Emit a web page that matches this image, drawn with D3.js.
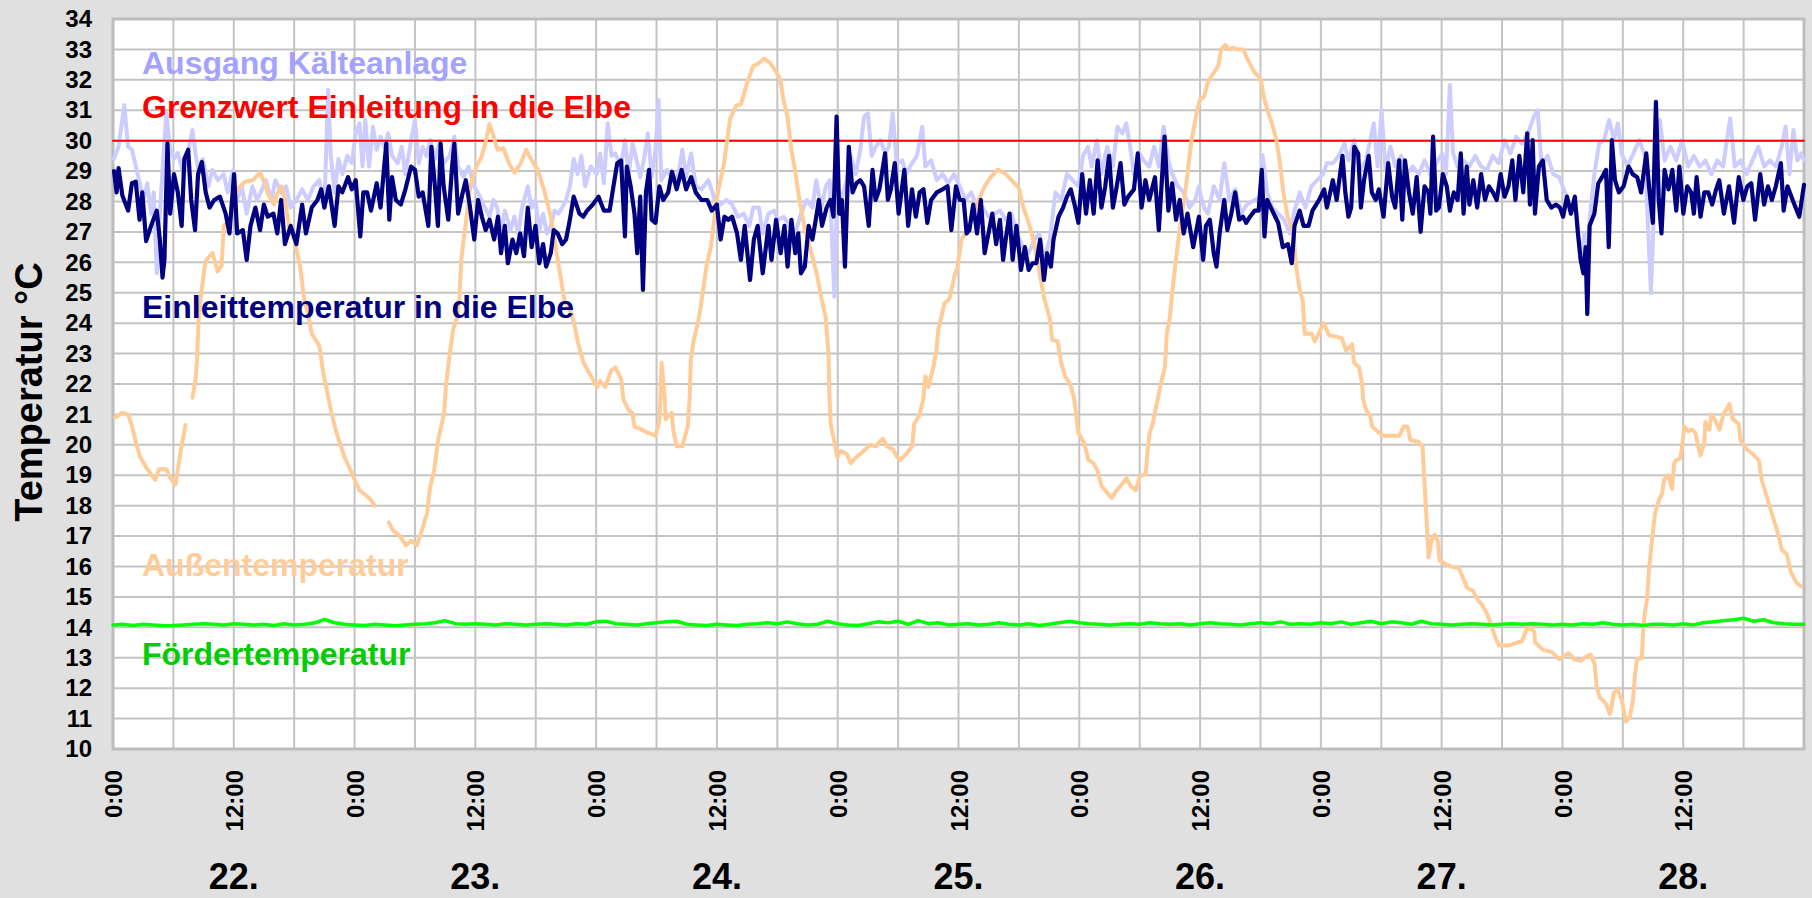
<!DOCTYPE html>
<html>
<head>
<meta charset="utf-8">
<script src="https://cdn.jsdelivr.net/npm/d3@7"></script>
<style>
  body { margin: 0; background: #e0e0e0; }
  text { font-family: "Liberation Sans", Arial, sans-serif; font-weight: bold; }
</style>
</head>
<body>
<svg id="chart" width="1812" height="898"></svg>
<script>
// time is hours since 22. 0:00, values in °C

var dayLabels = ['22.', '23.', '24.', '25.', '26.', '27.', '28.'];
var yTicks = d3.range(10, 35);

var grenzwert = [[0, 30], [168, 30]];

var einleit = [[0.1,29.0],[0.36,28.3],[0.55,29.1],[0.93,28.2],[1.5,27.7],[1.88,28.6],[2.26,28.65],[2.64,27.4],[2.91,28.3],[3.29,26.7],[3.78,27.2],[4.35,27.7],[4.65,26.75],[4.92,25.5],[5.11,26.1],[5.41,29.9],[5.68,27.6],[6.06,28.9],[6.44,28.3],[6.82,27.2],[7.09,29.4],[7.47,29.7],[7.77,28.05],[8.15,27.06],[8.45,28.9],[8.83,29.3],[9.21,28.3],[9.59,27.8],[10.05,28.05],[10.62,28.16],[11.19,27.6],[11.57,26.95],[12.03,28.9],[12.33,26.95],[12.9,27.06],[13.28,26.08],[13.66,27.2],[14.15,27.8],[14.61,27.06],[14.99,27.9],[15.37,27.5],[15.94,27.6],[16.32,26.95],[16.7,28.05],[17.08,26.6],[17.65,27.2],[18.22,26.6],[18.79,27.9],[19.17,26.95],[19.74,27.8],[20.31,28.05],[20.69,28.4],[21.0,27.8],[21.45,28.5],[22.02,27.2],[22.4,28.5],[22.78,28.3],[23.35,28.8],[23.73,28.4],[24.11,28.7],[24.57,26.85],[24.87,28.3],[25.25,28.3],[25.63,27.7],[26.2,28.6],[26.58,27.8],[27.15,29.9],[27.45,27.4],[27.72,28.8],[28.1,28.05],[28.59,27.9],[29.05,28.4],[29.62,29.15],[30.0,29.04],[30.38,28.16],[30.76,28.3],[31.33,27.2],[31.63,29.8],[32.01,28.4],[32.28,27.2],[32.55,29.9],[32.85,28.5],[33.31,27.4],[33.69,29.15],[33.91,29.9],[34.29,27.6],[34.75,28.3],[35.05,28.7],[35.43,27.9],[35.89,26.75],[36.27,28.05],[36.65,27.5],[37.03,27.06],[37.41,27.4],[37.87,26.75],[38.25,27.5],[38.55,26.3],[38.93,27.2],[39.23,25.97],[39.69,26.75],[40.07,26.3],[40.45,26.95],[40.83,26.2],[41.21,27.8],[41.59,26.5],[41.97,27.2],[42.35,25.97],[42.73,26.6],[43.03,25.86],[43.49,26.3],[43.79,27.06],[44.17,26.95],[44.63,26.6],[45.01,26.75],[45.39,27.4],[45.77,28.16],[46.34,27.6],[46.72,27.5],[47.1,27.7],[47.67,27.9],[48.24,28.16],
  [48.77,27.7],[49.34,27.7],[49.72,28.5],[50.1,29.26],[50.48,29.35],[50.86,26.85],[51.05,29.15],[51.43,28.5],[51.81,27.6],[52.08,26.3],[52.38,28.16],[52.65,25.09],[52.95,28.3],[53.26,29.04],[53.52,27.4],[53.9,27.3],[54.28,28.5],[54.66,28.05],[55.16,28.3],[55.54,28.98],[56.0,28.4],[56.49,29.04],[56.94,28.4],[57.44,28.8],[57.89,28.3],[58.46,28.05],[59.04,28.05],[59.49,27.7],[59.99,27.9],[60.37,26.75],[60.75,27.5],[61.13,27.4],[61.51,27.5],[62.0,26.95],[62.38,26.08],[62.76,27.2],[63.29,25.42],[63.67,26.75],[64.05,27.2],[64.55,25.64],[65.12,27.2],[65.42,26.08],[65.88,27.4],[66.33,26.3],[66.71,27.2],[67.02,25.86],[67.4,27.4],[67.78,26.3],[68.08,26.95],[68.35,25.64],[68.73,25.86],[69.11,27.2],[69.49,26.75],[69.87,27.5],[70.13,28.05],[70.44,27.2],[70.9,27.8],[71.28,28.05],[71.58,27.5],[71.89,30.79],[72.15,27.6],[72.42,28.05],[72.72,25.86],[73.1,29.8],[73.48,28.3],[73.86,28.6],[74.24,28.7],[74.62,28.5],[75.08,27.2],[75.46,29.04],[75.76,28.05],[76.14,28.4],[76.71,29.58],[76.98,28.05],[77.28,28.4],[77.67,29.26],[78.05,27.6],[78.62,29.04],[79.0,27.2],[79.38,28.4],[79.76,27.5],[80.14,28.3],[80.52,28.4],[80.9,27.3],[81.28,28.05],[81.85,28.3],[82.42,28.4],[82.91,28.5],[83.29,27.06],[83.75,28.5],[84.13,28.05],[84.51,28.05],[84.81,26.95],[85.08,27.06],[85.46,27.9],[85.84,26.95],[86.22,28.05],[86.6,26.3],[86.98,26.95],[87.36,27.6],[87.74,26.6],[88.12,27.4],[88.43,26.08],[88.69,26.75],[89.07,27.6],[89.38,26.08],[89.76,27.2],[90.21,25.75],[90.59,26.5],[90.97,25.75],[91.35,25.97],[91.73,25.97],[92.11,26.75],[92.49,25.42],[92.8,26.3],[93.18,25.86],[93.44,26.75],[93.94,27.5],[94.39,27.8],[94.77,28.16],[95.15,28.4],[95.53,27.9],[95.91,27.3],[96.29,28.9],[96.67,27.6],[97.05,28.7],[97.43,27.6],[97.82,29.35],[98.2,27.8],[98.58,28.5],[98.96,29.5],[99.34,27.8],[99.72,28.5],[100.1,29.26],[100.48,27.9],[100.86,28.16],[101.43,28.4],[101.81,29.58],[102.19,27.8],[102.57,28.7],[102.95,28.05],[103.52,28.8],[103.9,27.06],[104.47,30.13],[104.85,27.7],[105.23,28.6],[105.61,27.4],[105.99,28.05],[106.37,26.95],[106.75,27.6],[107.32,26.5],[107.89,27.5],
  [108.31,26.08],[108.58,27.2],[108.97,27.4],[109.36,26.3],[109.63,25.86],[109.94,26.95],[110.4,28.05],[110.71,27.06],[111.1,27.6],[111.49,28.3],[111.88,27.4],[112.27,27.5],[112.58,27.3],[112.96,27.5],[113.43,27.7],[113.82,27.7],[114.13,29.04],[114.4,26.85],[114.67,28.05],[115.17,27.7],[115.76,27.3],[116.22,26.5],[116.73,26.6],[117.11,25.97],[117.38,27.2],[117.89,27.7],[118.28,27.2],[118.78,27.2],[119.17,27.7],[119.83,28.05],[120.33,28.4],[120.6,27.8],[121.19,28.7],[121.57,28.05],[122.15,29.5],[122.43,28.3],[122.74,27.5],[123.01,27.8],[123.32,29.8],[123.71,29.58],[123.98,27.8],[124.29,28.7],[124.75,29.5],[125.06,28.3],[125.45,28.05],[125.76,28.4],[126.23,27.5],[126.69,29.26],[127.08,28.16],[127.39,27.8],[127.78,29.35],[128.09,27.4],[128.36,29.35],[128.75,28.3],[129.13,27.6],[129.52,28.8],[129.91,27.0],[130.3,28.5],[130.69,28.3],[130.88,27.6],[131.15,30.13],[131.46,27.7],[131.73,27.8],[132.12,28.9],[132.51,28.5],[132.82,27.7],[133.21,28.3],[133.59,28.05],[133.9,29.58],[134.18,27.6],[134.49,29.15],[134.76,27.9],[135.15,28.7],[135.53,27.8],[135.92,28.9],[136.31,28.05],[136.7,28.5],[137.09,28.3],[137.47,28.05],[137.86,28.9],[138.25,28.16],[138.64,28.5],[139.02,29.35],[139.33,28.05],[139.72,29.5],[140.11,28.3],[140.5,30.24],[140.77,27.9],[141.04,30.02],[141.27,27.6],[141.66,29.15],[142.05,29.35],[142.44,28.05],[142.9,27.8],[143.37,27.9],[143.75,27.8],[144.07,27.5],[144.45,28.16],[144.84,27.6],[145.23,28.16],[145.54,26.95],[145.81,26.08],[146.08,25.64],[146.31,26.5],[146.47,24.3],[146.7,27.2],[147.17,27.6],[147.56,28.6],[147.94,28.8],[148.33,29.04],[148.6,26.5],[148.91,30.02],[149.22,28.7],[149.61,28.3],[150.08,28.5],[150.58,29.15],[150.97,28.9],[151.43,28.8],[151.82,28.3],[152.33,29.58],[152.6,28.5],[152.98,27.3],[153.29,31.28],[153.57,28.05],[153.84,26.95],[154.15,29.04],[154.54,28.4],[154.92,29.04],[155.31,27.7],[155.62,29.15],[156.01,27.6],[156.4,28.5],[156.79,28.3],[157.06,27.6],[157.33,28.8],[157.72,27.5],[158.1,28.3],[158.49,28.3],[158.88,27.9],[159.27,28.4],[159.58,28.7],[160.04,27.6],[160.55,28.5],[161.05,27.3],[161.52,28.8],[161.98,28.05],[162.37,28.5],[162.76,28.6],[163.14,27.4],[163.65,28.9],[164.04,27.9],[164.42,28.5],[164.81,28.05],[165.2,28.5],[165.7,29.26],[165.98,27.7],[166.36,28.5],[166.87,28.05],[167.53,27.5],[168.0,28.55]];

var ausgang = [[0.1,29.4],[0.55,29.8],[1.12,31.17],[1.5,29.8],[1.88,29.7],[2.45,28.9],[3.03,28.05],[3.41,28.6],[3.78,27.6],[4.05,28.3],[4.35,25.64],[4.65,27.6],[5.11,30.02],[5.3,30.9],[5.68,29.7],[6.06,29.4],[6.44,29.6],[7.01,28.9],[7.39,29.5],[7.89,30.35],[8.23,29.5],[8.53,28.9],[8.91,29.4],[9.48,28.5],[9.86,29.04],[10.43,28.7],[11.0,28.9],[11.38,28.3],[11.95,29.04],[12.33,28.05],[12.79,28.5],[13.28,27.6],[13.85,28.5],[14.3,28.05],[14.8,28.4],[15.18,28.7],[15.75,28.05],[16.13,28.7],[16.7,28.3],[17.19,28.5],[17.65,27.8],[18.22,28.05],[18.79,28.4],[19.36,28.05],[19.93,28.5],[20.5,28.7],[21.0,27.8],[21.37,31.67],[21.64,29.5],[22.02,28.3],[22.4,29.4],[22.78,28.9],[23.27,29.5],[23.73,29.26],[24.11,30.24],[24.49,30.57],[24.79,29.15],[25.06,30.68],[25.44,29.15],[25.82,30.46],[26.2,29.7],[26.58,30.13],[26.96,29.8],[27.34,30.24],[27.72,29.5],[28.29,29.26],[28.67,29.8],[29.05,28.9],[29.62,30.02],[30.0,30.68],[30.38,29.26],[30.76,29.8],[31.14,29.5],[31.52,30.02],[32.01,29.4],[32.39,29.9],[32.85,29.26],[33.42,29.5],[33.91,30.13],[34.29,29.15],[34.82,28.8],[35.32,29.15],[35.89,28.5],[36.46,28.16],[36.95,27.8],[37.41,27.5],[37.79,28.05],[38.17,27.8],[38.55,26.95],[38.93,27.7],[39.5,27.06],[39.88,27.5],[40.26,26.95],[40.64,27.8],[41.21,28.5],[41.59,27.8],[41.97,28.05],[42.35,27.06],[42.73,27.6],[43.11,26.95],[43.49,27.2],[43.87,27.7],[44.25,27.6],[44.63,27.8],[45.01,28.05],[45.39,28.5],[45.77,29.4],[46.15,28.9],[46.53,29.5],[46.91,28.5],[47.48,29.15],[48.05,28.9],
  [48.39,29.58],[48.77,28.6],[49.15,30.57],[49.53,29.5],[49.91,29.58],[50.48,29.15],[50.86,30.02],[51.24,28.9],[51.62,29.9],[52.0,29.4],[52.38,28.8],[52.76,29.4],[53.14,30.24],[53.52,28.8],[53.9,29.7],[54.2,31.34],[54.47,28.7],[55.04,29.04],[55.61,28.7],[56.18,28.9],[56.56,29.7],[56.94,28.8],[57.44,29.58],[57.89,28.5],[58.46,28.4],[59.15,28.7],[59.79,28.05],[60.37,27.9],[60.94,28.05],[61.51,27.9],[62.08,27.5],[62.65,27.6],[63.22,27.2],[63.6,27.8],[64.17,27.8],[64.55,26.95],[65.12,27.6],[65.69,27.7],[66.07,27.4],[66.64,27.5],[67.21,27.2],[67.78,26.95],[68.35,27.6],[68.92,28.05],[69.49,27.8],[69.87,28.7],[70.37,27.8],[70.82,28.5],[71.2,28.7],[71.66,24.87],[71.96,28.5],[72.34,28.05],[72.91,28.7],[73.29,29.5],[73.79,28.9],[74.24,29.7],[74.62,30.79],[75.0,30.9],[75.38,29.5],[75.76,29.8],[76.26,30.02],[76.71,29.58],[77.09,29.8],[77.47,30.9],[77.85,29.26],[78.42,29.35],[78.8,28.9],[79.38,29.26],[79.87,29.5],[80.4,30.46],[80.7,29.15],[81.28,29.35],[81.85,28.7],[82.42,28.9],[82.99,28.6],[83.56,28.9],[84.13,28.5],[84.7,28.05],[85.27,28.3],[85.84,27.8],[86.41,27.8],[86.98,27.5],[87.55,27.6],[88.12,27.7],[88.69,27.4],[89.26,27.6],[89.83,26.95],[90.4,26.5],[90.97,26.3],[91.54,26.75],[92.04,26.95],[92.49,26.08],[93.06,26.75],[93.63,28.3],[94.2,28.05],[94.77,28.9],[95.34,28.7],[95.91,28.5],[96.37,29.5],[96.86,29.8],[97.24,29.15],[97.74,30.02],[98.2,28.9],[98.77,29.8],[99.34,29.15],[99.79,30.46],[100.29,30.24],[100.67,30.57],[101.05,29.8],[101.43,28.9],[102.0,29.58],[102.38,29.35],[102.95,29.15],[103.44,29.8],[103.9,29.15],[104.39,30.46],[104.85,29.35],[105.23,28.9],[105.8,28.5],[106.37,28.3],[106.94,27.8],[107.51,28.05],[107.89,28.5],
  [108.0,28.3],[108.39,27.8],[108.78,27.6],[109.36,28.5],[109.94,28.05],[110.4,29.26],[110.91,28.05],[111.49,28.4],[112.07,27.6],[112.65,27.9],[113.43,28.05],[114.01,28.16],[114.2,29.53],[114.67,28.3],[115.17,27.8],[115.76,27.6],[116.34,27.4],[116.92,26.95],[117.31,27.6],[117.89,28.3],[118.47,27.8],[119.05,28.5],[119.63,28.7],[120.22,28.9],[120.6,29.26],[121.19,29.26],[121.77,29.5],[122.35,29.9],[122.74,29.35],[123.32,30.02],[123.9,29.04],[124.48,29.35],[125.26,30.57],[125.64,29.15],[126.03,31.0],[126.42,29.04],[126.92,29.8],[127.39,29.15],[127.97,29.5],[128.55,28.9],[129.13,29.15],[129.72,28.9],[130.3,29.35],[130.88,28.9],[131.46,29.26],[132.04,29.58],[132.43,28.9],[132.82,31.83],[133.13,29.58],[133.59,29.15],[134.18,29.35],[134.76,29.15],[135.34,29.5],[135.92,29.15],[136.5,29.04],[137.09,29.5],[137.67,29.26],[138.25,30.02],[138.83,29.58],[139.41,30.13],[139.99,29.9],[140.58,30.24],[141.16,30.79],[141.54,31.0],[141.93,29.15],[142.51,29.5],[143.1,28.9],[143.68,28.8],[144.26,28.3],[144.84,27.8],[145.42,27.6],[145.81,26.08],[146.2,26.95],[146.39,24.98],[146.7,27.4],[147.17,28.9],[147.64,29.9],[148.14,30.02],[148.64,30.68],[149.11,30.02],[149.5,30.57],[149.88,29.58],[150.46,29.15],[151.05,29.58],[151.63,30.02],[152.21,29.5],[152.79,24.98],[153.18,28.5],[153.68,30.68],[154.15,29.35],[154.73,29.8],[155.31,29.35],[155.89,30.02],[156.47,29.15],[157.06,29.5],[157.64,29.15],[158.22,29.35],[158.8,28.9],[159.38,29.35],[159.96,29.15],[160.66,30.73],[161.13,29.15],[161.71,29.35],[162.29,28.9],[162.87,29.35],[163.46,29.8],[164.04,29.15],[164.62,29.35],[165.2,29.15],[165.78,29.8],[166.17,30.46],[166.56,28.9],[166.95,30.35],[167.33,29.35],[167.72,29.58],[168.0,29.35]];

var aussen = [[0.2,20.9],[0.9,21.05],[1.5,21.0],[1.9,20.6],[2.3,20.05],[2.7,19.6],[3.4,19.2],[4.2,18.85],[4.55,19.2],[5.3,19.2],[5.7,18.9],[6.2,18.7],[6.4,19.1],[6.8,19.95],[7.2,20.65],[7.5,null],[7.9,21.55],[8.2,22.15],[8.35,22.8],[8.5,24.1],[8.7,24.8],[9.1,25.85],[9.3,26.1],[9.9,26.3],[10.4,25.7],[10.8,25.9],[11.0,27.2],[11.6,27.4],[12.35,28.4],[13.1,28.65],[13.9,28.7],[14.6,28.95],[15.0,28.65],[15.4,28.25],[16.0,27.9],[16.3,28.25],[16.7,28.5],[17.1,28.05],[17.5,27.15],[18.05,26.7],[18.6,25.85],[19.0,24.75],[19.4,24.3],[19.75,23.65],[20.5,23.25],[20.9,22.35],[21.3,21.7],[21.7,21.05],[22.2,20.4],[23.0,19.6],[23.75,19.05],[24.5,18.5],[25.1,18.35],[25.6,18.2],[26.0,18.0],[26.7,null],[27.4,17.45],[27.8,17.2],[28.5,17.0],[29.1,16.7],[29.6,16.85],[30.2,16.7],[30.6,17.1],[31.2,17.75],[31.5,18.6],[31.9,19.15],[32.3,20.15],[32.9,21.05],[33.07,21.9],[33.45,23.0],[33.8,23.8],[34.2,24.2],[34.4,24.75],[34.6,26.1],[35.0,27.15],[35.5,28.5],[36.1,29.15],[36.6,29.45],[37.05,30.0],[37.4,30.55],[37.8,30.15],[38.2,29.7],[38.8,29.75],[39.35,29.25],[39.9,28.95],[40.5,29.25],[41.05,29.7],[41.6,29.35],[42.2,29.05],[42.8,28.4],[43.5,27.5],[44.3,25.85],[44.85,24.75],[45.4,24.45],[45.8,24.0],[46.2,23.35],[46.75,22.7],[47.5,22.25],[48.1,21.9],[48.4,22.1],[48.9,21.9],[49.5,22.45],[49.9,22.55],[50.5,22.15],[50.7,21.5],[51.2,21.15],[51.6,21.05],[51.8,20.6],[52.55,20.5],[53.1,20.4],[53.9,20.3],[54.3,20.8],[54.5,22.7],[54.8,21.6],[54.9,20.85],[55.5,21.05],[55.7,20.4],[56.0,19.95],[56.55,19.95],[57.1,20.6],[57.3,21.6],[57.4,22.8],[57.7,23.45],[58.1,24.0],[58.35,24.45],[58.5,24.8],[59.0,25.95],[59.4,26.5],[60.0,28.15],[60.7,29.25],[61.3,30.7],[61.9,31.15],[62.4,31.2],[63.0,31.9],[63.6,32.45],[64.2,32.55],[64.7,32.7],[65.3,32.55],[65.9,32.25],[66.3,32.0],[66.6,31.35],[67.0,30.8],[67.4,29.7],[67.8,28.95],[68.2,28.05],[68.7,27.15],[69.3,26.4],[69.9,25.65],[70.4,24.8],[70.8,24.2],[71.1,22.9],[71.15,21.8],[71.3,20.7],[71.7,20.05],[71.96,19.6],[72.3,19.8],[72.9,19.7],[73.3,19.4],[73.85,19.6],[74.6,19.8],[75.2,20.0],[75.8,19.95],[76.3,20.15],[76.5,20.2],[76.9,19.95],[77.5,19.85],[77.9,19.6],[78.2,19.5],[78.8,19.7],[79.4,19.95],[79.6,20.7],[80.1,20.95],[80.5,21.5],[80.7,22.25],[81.0,21.9],[81.5,22.55],[81.8,23.1],[82.0,23.8],[82.4,24.35],[82.6,24.65],[83.1,24.8],[83.6,25.55],[83.9,25.85],[84.3,26.75],[84.9,27.05],[85.5,27.6],[86.0,28.05],[86.6,28.5],[87.2,28.8],[87.9,29.05],[88.7,28.9],[89.4,28.65],[90.0,28.45],[90.4,27.85],[90.97,27.3],[91.5,26.65],[91.9,25.95],[92.5,24.85],[93.1,24.1],[93.3,23.45],[93.85,23.4],[94.2,22.7],[94.6,22.25],[95.1,22.0],[95.5,21.5],[95.9,20.4],[96.5,20.05],[96.9,19.5],[97.4,19.4],[97.8,19.15],[98.2,18.65],[98.6,18.5],[99.2,18.25],[99.7,18.5],[100.1,18.65],[100.7,18.9],[101.1,18.65],[101.6,18.5],[102.0,18.95],[102.6,19.05],[102.8,19.85],[103.0,20.4],[103.3,20.7],[103.7,21.35],[104.1,22.0],[104.5,22.55],[104.7,23.65],[105.0,24.2],[105.2,24.9],[105.6,26.1],[106.0,27.15],[106.6,28.5],[107.1,29.9],[107.7,31.0],[108.0,31.35],[108.4,31.45],[108.8,31.95],[109.4,32.25],[109.8,32.45],[110.1,33.0],[110.5,33.15],[110.9,33.0],[111.3,33.05],[111.7,33.0],[112.3,33.0],[112.6,32.75],[113.0,32.5],[113.4,32.25],[114.0,32.05],[114.4,31.35],[114.8,30.9],[115.2,30.5],[115.6,30.0],[115.9,29.35],[116.3,28.25],[116.7,27.5],[117.3,26.95],[117.5,25.95],[117.9,25.1],[118.2,24.75],[118.3,24.2],[118.4,23.65],[119.1,23.65],[119.4,23.4],[120.3,24.0],[120.8,23.6],[121.6,23.55],[122.1,23.5],[122.5,23.1],[123.1,23.3],[123.3,22.7],[123.8,22.55],[124.1,22.0],[124.2,21.5],[124.5,21.15],[124.9,20.95],[125.1,20.6],[125.6,20.45],[126.2,20.3],[127.8,20.3],[128.2,20.6],[128.6,20.6],[128.9,20.15],[129.7,20.1],[130.1,19.95],[130.3,18.75],[130.5,17.55],[130.7,16.3],[131.0,16.85],[131.3,17.05],[131.6,16.85],[131.8,16.2],[132.3,16.1],[132.9,16.0],[133.7,15.95],[134.1,15.65],[134.5,15.3],[135.1,15.2],[135.6,14.9],[136.0,14.75],[136.5,14.45],[136.9,14.1],[137.3,13.7],[137.7,13.4],[138.6,13.4],[140.0,13.55],[140.4,13.9],[140.8,14.0],[141.2,13.85],[141.3,13.5],[142.1,13.25],[142.9,13.2],[143.7,12.95],[144.1,13.05],[144.6,13.15],[145.2,12.95],[145.8,12.9],[146.4,13.05],[146.8,13.1],[147.2,12.8],[147.4,12.05],[147.7,11.7],[148.3,11.5],[148.7,11.15],[148.9,11.4],[149.1,11.85],[149.5,11.95],[149.9,11.6],[150.3,10.9],[150.7,11.05],[151.0,11.6],[151.2,12.4],[151.4,12.95],[151.9,13.0],[152.0,13.8],[152.2,14.55],[152.4,14.9],[152.6,15.9],[152.8,16.55],[152.97,17.1],[153.2,17.75],[153.6,18.2],[153.9,18.4],[154.1,18.85],[154.5,19.0],[154.9,18.55],[155.1,19.4],[155.3,19.5],[155.7,19.55],[155.9,19.95],[156.1,20.6],[156.5,20.45],[156.9,20.5],[157.2,20.4],[157.7,19.65],[158.1,20.05],[158.2,20.75],[158.6,20.5],[158.8,21.0],[159.2,20.8],[159.6,20.5],[160.0,21.0],[160.6,21.35],[160.9,20.85],[161.5,20.7],[161.7,20.15],[162.3,19.85],[162.9,19.7],[163.5,19.5],[163.8,18.85],[164.2,18.4],[164.8,17.75],[165.4,17.1],[165.8,16.55],[166.3,16.4],[166.7,15.8],[167.3,15.45],[167.7,15.35]];

// Fördertemperatur, one value per hour from 22. 0:00
var foerder = [14.08,14.1,14.06,14.1,14.08,14.05,14.06,14.08,14.1,14.12,14.1,14.08,
  14.12,14.1,14.08,14.1,14.06,14.12,14.08,14.1,14.14,14.26,14.15,14.1,
  14.08,14.06,14.1,14.08,14.05,14.08,14.1,14.12,14.15,14.22,14.12,14.1,
  14.12,14.1,14.08,14.12,14.1,14.08,14.1,14.12,14.1,14.08,14.12,14.1,
  14.18,14.2,14.12,14.1,14.08,14.12,14.15,14.18,14.2,14.1,14.08,14.06,
  14.1,14.08,14.06,14.1,14.12,14.15,14.12,14.18,14.12,14.08,14.1,14.2,
  14.12,14.08,14.06,14.12,14.18,14.15,14.2,14.1,14.22,14.12,14.15,14.08,
  14.1,14.12,14.08,14.1,14.15,14.1,14.08,14.12,14.06,14.1,14.15,14.2,
  14.15,14.12,14.1,14.08,14.1,14.12,14.1,14.15,14.12,14.1,14.12,14.08,
  14.12,14.15,14.12,14.1,14.08,14.12,14.15,14.12,14.18,14.1,14.12,14.1,
  14.15,14.12,14.18,14.1,14.15,14.2,14.12,14.18,14.15,14.1,14.2,14.12,
  14.1,14.08,14.1,14.12,14.1,14.08,14.1,14.12,14.1,14.12,14.1,14.08,
  14.1,14.08,14.12,14.1,14.15,14.1,14.08,14.1,14.06,14.1,14.1,14.08,
  14.12,14.08,14.15,14.18,14.22,14.25,14.3,14.2,14.25,14.15,14.12,14.1,14.1];

var legendNames = ['Ausgang Kälteanlage', 'Grenzwert Einleitung in die Elbe',
  'Einleittemperatur in die Elbe', 'Außentemperatur', 'Fördertemperatur'];
var legendColors = ['#a3a3ff', '#ff0000', '#000080', '#ffcc99', '#00cc00'];
var legendAt = [32.2, 30.75, 24.17, 15.7, 12.75];   // baseline, in °C

var svg = d3.select('#chart');
var W = 1812, H = 898;

var x = d3.scaleLinear().domain([0, 168]).range([113, 1804]);
var y = d3.scaleLinear().domain([10, 34]).range([749, 19]);

svg.append('rect').attr('width', W).attr('height', H).attr('fill', '#e0e0e0');

// plot area
svg.append('rect')
    .attr('x', x(0)).attr('y', y(34))
    .attr('width', x(168) - x(0)).attr('height', y(10) - y(34))
    .attr('fill', '#ffffff');

// grid
var grid = svg.append('g');
grid.selectAll('line.h').data(yTicks).enter().append('line')
    .attr('x1', x(0)).attr('x2', x(168))
    .attr('y1', d => y(d)).attr('y2', d => y(d))
    .attr('stroke', '#c4c4c4').attr('stroke-width', 2);
grid.selectAll('line.v').data(d3.range(0, 169, 6)).enter().append('line')
    .attr('x1', d => x(d)).attr('x2', d => x(d))
    .attr('y1', y(34)).attr('y2', y(10))
    .attr('stroke', '#c4c4c4').attr('stroke-width', 2);

// frame
svg.append('rect')
    .attr('x', x(0)).attr('y', y(34))
    .attr('width', x(168) - x(0)).attr('height', y(10) - y(34))
    .attr('fill', 'none').attr('stroke', '#bdbdbd').attr('stroke-width', 3);

// series
var line = d3.line()
    .defined(d => d[1] != null)
    .x(d => x(d[0]))
    .y(d => y(d[1]));

function drawSeries(data, color, width) {
    svg.append('path')
        .datum(data)
        .attr('d', line)
        .attr('fill', 'none')
        .attr('stroke', color)
        .attr('stroke-width', width)
        .attr('stroke-linejoin', 'round')
        .attr('stroke-linecap', 'round');
}

drawSeries(ausgang, '#ccccff', 4);
drawSeries(grenzwert, '#ff0000', 2);
drawSeries(aussen, '#ffcc99', 4);
drawSeries(einleit, '#000080', 4.2);
drawSeries(foerder.map((v, i) => [i, v]), '#00ff00', 3.5);

// legend labels inside plot
svg.selectAll('text.leg').data(legendNames).enter().append('text')
    .attr('x', 142)
    .attr('y', (d, i) => y(legendAt[i]))
    .attr('fill', (d, i) => legendColors[i])
    .style('font-size', '32px')
    .text(d => d);

// y axis
var yAxis = d3.axisLeft(y).tickValues(yTicks).tickSize(0).tickPadding(21);
var gy = svg.append('g').attr('transform', 'translate(' + x(0) + ',0)').call(yAxis);
gy.select('.domain').remove();
gy.selectAll('text')
    .style('font-size', '24px')
    .style('font-family', '"Liberation Sans", Arial, sans-serif')
    .attr('fill', '#000');

// x axis
var xAxis = d3.axisBottom(x)
    .tickValues(d3.range(0, 168, 12))
    .tickSize(0)
    .tickFormat(h => (h % 24 === 0) ? '0:00' : '12:00');
var gx = svg.append('g').attr('transform', 'translate(0,' + y(10) + ')').call(xAxis);
gx.select('.domain').remove();
gx.selectAll('text')
    .attr('transform', 'rotate(-90)')
    .attr('x', -21).attr('y', 0).attr('dy', '0.36em')
    .attr('text-anchor', 'end')
    .style('font-size', '24px')
    .style('font-family', '"Liberation Sans", Arial, sans-serif')
    .attr('fill', '#000');

// day labels
svg.selectAll('text.day').data(dayLabels).enter().append('text')
    .attr('x', (d, i) => x(i * 24 + 12))
    .attr('y', 889)
    .attr('text-anchor', 'middle')
    .style('font-size', '36px')
    .text(d => d);

// y title
svg.append('text')
    .attr('transform', 'translate(42,' + ((y(34) + y(10)) / 2 + 8) + ') rotate(-90)')
    .attr('text-anchor', 'middle')
    .style('font-size', '38px')
    .text('Temperatur °C');
</script>
</body>
</html>
